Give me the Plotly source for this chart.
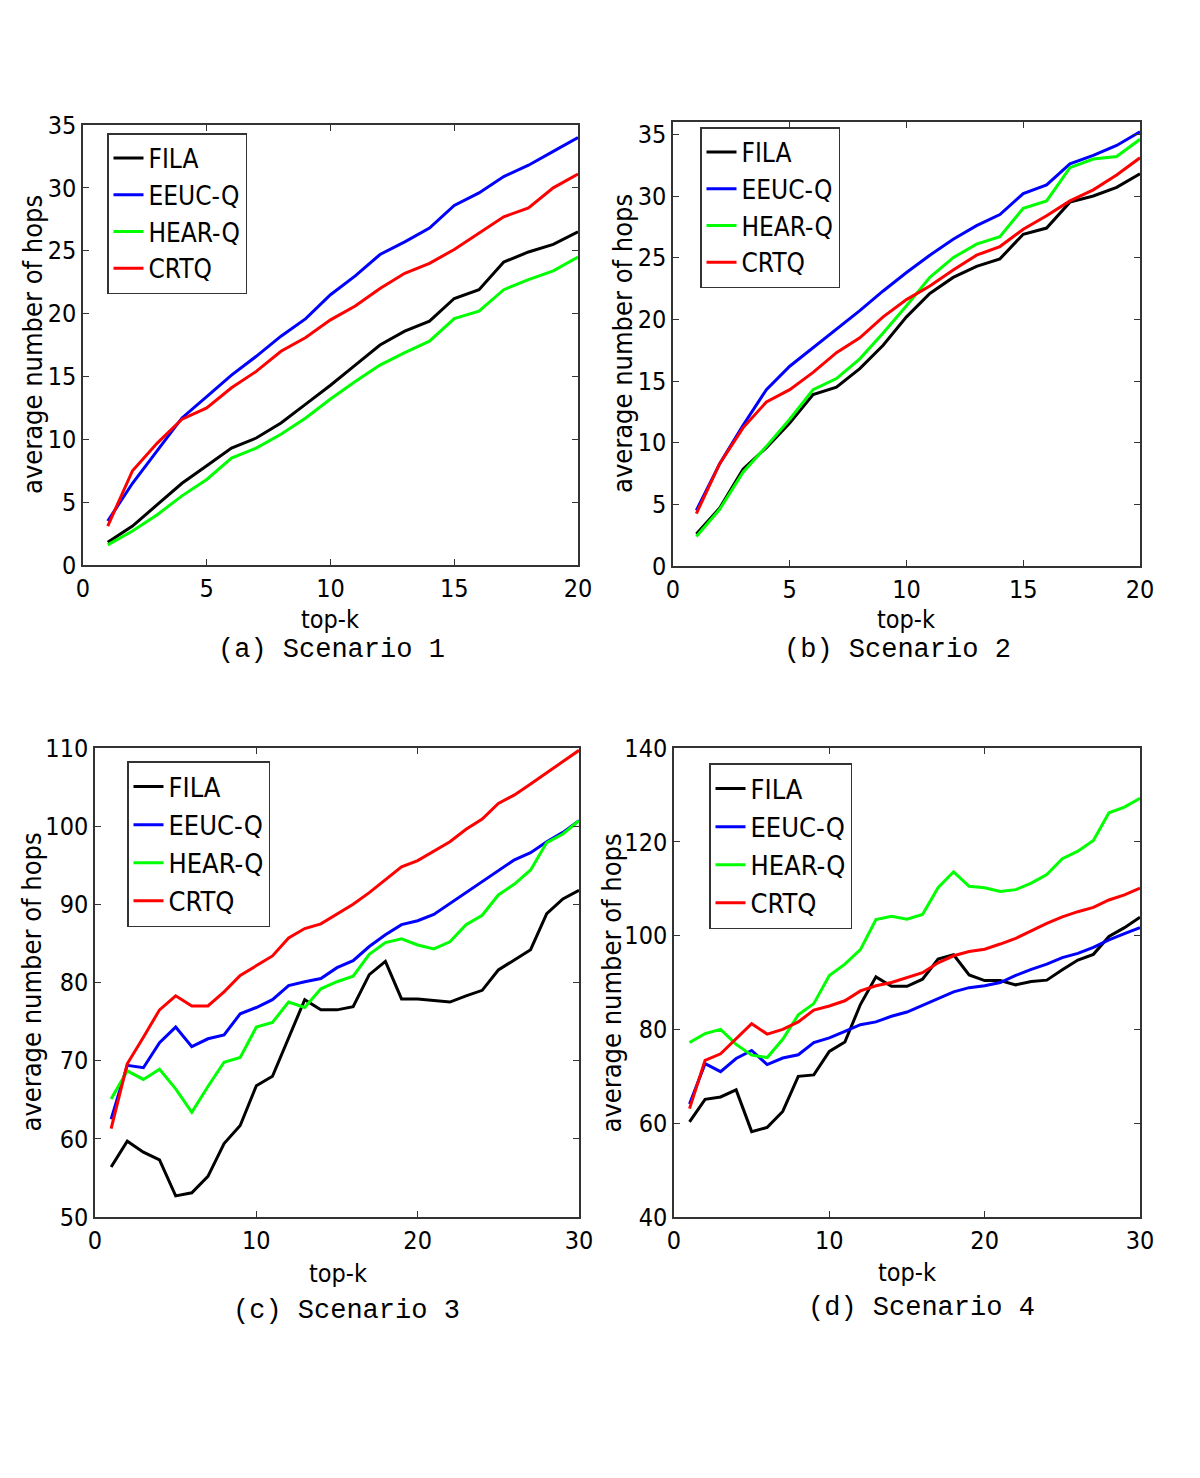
import plotly.graph_objects as go

W, H = 1200, 1478
OFF = 8  # page body margin compensation (px)

series_names = ["FILA", "EEUC-Q", "HEAR-Q", "CRTQ"]
series_colors = ["#000000", "#0000ff", "#00ff00", "#ff0000"]

# Scenario 1 (top-k 1..20)
k_a = list(range(1, 21))
fila_a = [1.8, 3.1, 4.8, 6.5, 7.9, 9.3, 10.1, 11.3, 12.8, 14.3, 15.9, 17.5, 18.6, 19.4, 21.2, 21.9, 24.1, 24.9, 25.5, 26.5]
eeuc_a = [3.5, 6.5, 9.1, 11.7, 13.4, 15.1, 16.6, 18.2, 19.6, 21.5, 23.0, 24.7, 25.7, 26.8, 28.6, 29.6, 30.9, 31.8, 32.9, 34.0]
hear_a = [1.6, 2.7, 4.0, 5.5, 6.8, 8.5, 9.3, 10.4, 11.7, 13.2, 14.6, 15.9, 16.9, 17.8, 19.6, 20.2, 21.9, 22.7, 23.4, 24.5]
crtq_a = [3.1, 7.5, 9.7, 11.6, 12.5, 14.1, 15.4, 17.0, 18.1, 19.5, 20.6, 22.0, 23.2, 24.0, 25.1, 26.4, 27.7, 28.4, 30.0, 31.1]

# Scenario 2 (top-k 1..20)
k_b = list(range(1, 21))
fila_b = [2.6, 4.7, 7.85, 9.6, 11.6, 13.9, 14.5, 16.0, 17.9, 20.2, 22.1, 23.4, 24.3, 24.9, 26.9, 27.4, 29.5, 30.0, 30.7, 31.8]
eeuc_b = [4.5, 8.3, 11.4, 14.3, 16.2, 17.7, 19.2, 20.7, 22.3, 23.8, 25.2, 26.5, 27.6, 28.5, 30.2, 30.9, 32.6, 33.3, 34.1, 35.2]
hear_b = [2.4, 4.6, 7.6, 9.7, 11.9, 14.3, 15.2, 16.8, 18.9, 21.1, 23.4, 25.0, 26.1, 26.7, 29.0, 29.6, 32.3, 33.0, 33.2, 34.6]
crtq_b = [4.25, 8.3, 11.2, 13.3, 14.3, 15.7, 17.3, 18.5, 20.2, 21.6, 22.7, 24.0, 25.2, 25.9, 27.3, 28.4, 29.6, 30.5, 31.7, 33.1]

# Scenario 3 (top-k 1..30)
k_c = list(range(1, 31))
fila_c = [56.4, 59.7, 58.3, 57.3, 52.7, 53.1, 55.2, 59.4, 61.7, 66.8, 68.0, 73.0, 77.8, 76.5, 76.5, 76.9, 81.0, 82.7, 77.9, 77.9,
          77.7, 77.5, 78.3, 79.0, 81.6, 82.9, 84.2, 88.8, 90.7, 91.8]
eeuc_c = [62.5, 69.4, 69.1, 72.3, 74.3, 71.8, 72.8, 73.3, 76.0, 76.8, 77.8, 79.6, 80.1, 80.5, 81.9, 82.8, 84.6, 86.1, 87.4, 87.9,
          88.7, 90.1, 91.5, 93.0, 94.3, 95.7, 96.6, 98.0, 99.2, 100.7]
hear_c = [65.1, 68.7, 67.6, 68.9, 66.4, 63.4, 66.7, 69.8, 70.4, 74.3, 74.9, 77.5, 76.8, 79.2, 80.1, 80.8, 83.6, 85.1, 85.6, 84.8,
          84.3, 85.2, 87.4, 88.6, 91.2, 92.6, 94.4, 97.9, 99.0, 100.7]
crtq_c = [61.3, 69.6, 73.0, 76.5, 78.3, 77.0, 77.0, 78.8, 80.9, 82.2, 83.4, 85.7, 86.9, 87.5, 88.8, 90.0, 91.5, 93.1, 94.8, 95.6,
          96.8, 98.0, 99.6, 100.9, 102.9, 104.0, 105.4, 106.8, 108.2, 109.7]

# Scenario 4 (top-k 1..30)
k_d = list(range(1, 31))
fila_d = [60.3, 65.1, 65.6, 67.1, 58.2, 59.1, 62.5, 70.0, 70.3, 75.3, 77.3, 85.3, 91.2, 89.2, 89.2, 90.7, 95.0, 95.9, 91.6, 90.4,
          90.4, 89.5, 90.2, 90.5, 92.7, 94.8, 96.0, 99.8, 101.7, 103.9]
eeuc_d = [64.1, 72.7, 71.0, 73.8, 75.5, 72.5, 73.9, 74.6, 77.2, 78.2, 79.6, 81.0, 81.6, 82.8, 83.7, 85.1, 86.6, 88.0, 88.9, 89.3,
          90.0, 91.5, 92.8, 93.9, 95.3, 96.2, 97.5, 99.1, 100.4, 101.7]
hear_d = [77.2, 79.1, 80.0, 76.8, 74.5, 74.0, 77.9, 83.1, 85.5, 91.5, 93.9, 97.0, 103.4, 104.1, 103.5, 104.5, 110.2, 113.6, 110.5, 110.2,
          109.4, 109.8, 111.2, 113.0, 116.4, 118.0, 120.3, 126.2, 127.4, 129.3]
crtq_d = [63.1, 73.4, 74.8, 78.0, 81.2, 79.0, 80.0, 81.6, 84.1, 85.0, 86.1, 88.2, 89.3, 90.0, 91.0, 92.1, 94.2, 95.7, 96.6, 97.1,
          98.2, 99.4, 101.0, 102.6, 104.0, 105.1, 106.0, 107.6, 108.7, 110.1]

captions = ["(a) Scenario 1", "(b) Scenario 2", "(c) Scenario 3", "(d) Scenario 4"]
x_label = "top-k"
y_label = "average number of hops"

x_ranges = [[0, 20], [0, 20], [0, 30], [0, 30]]
x_ticks = [[0, 5, 10, 15, 20], [0, 5, 10, 15, 20], [0, 10, 20, 30], [0, 10, 20, 30]]
y_ranges = [[0, 35], [0, 36], [50, 110], [40, 140]]
y_ticks = [[0, 5, 10, 15, 20, 25, 30, 35], [0, 5, 10, 15, 20, 25, 30, 35],
           [50, 60, 70, 80, 90, 100, 110], [40, 60, 80, 100, 120, 140]]

panels = [
    (k_a, [fila_a, eeuc_a, hear_a, crtq_a]),
    (k_b, [fila_b, eeuc_b, hear_b, crtq_b]),
    (k_c, [fila_c, eeuc_c, hear_c, crtq_c]),
    (k_d, [fila_d, eeuc_d, hear_d, crtq_d]),
]

# layout (target page pixels of plot areas: left, right, top, bottom)
boxes = [(83, 578, 125, 565), (673, 1140, 122, 566), (95, 579, 748, 1217), (674, 1140, 748, 1217)]
legend_pos = [(107, 133), (700, 127), (127, 761), (709, 763)]
legend_font = [26, 26, 27, 27]
ylabel_x = [33, 622, 31, 611]
xlabel_pos = [(330, 619), (906, 619), (338, 1273), (907, 1272)]
caption_pos = [(331, 650), (897, 650), (347, 1311), (921, 1308)]

SANS = "DejaVu Sans Condensed, DejaVu Sans, sans-serif"
MONO = "Liberation Mono, DejaVu Sans Mono, monospace"


def px(x):
    return (x - OFF) / W


def py(y):
    return 1 - (y - OFF) / H


fig = go.Figure()
layout = dict(width=W, height=H, margin=dict(l=0, r=0, t=0, b=0, pad=0, autoexpand=False),
              paper_bgcolor="white", plot_bgcolor="white", showlegend=True)
annotations = []

for i, (xs, ys_list) in enumerate(panels):
    n = i + 1
    xa = "x" if n == 1 else f"x{n}"
    ya = "y" if n == 1 else f"y{n}"
    lg = "legend" if n == 1 else f"legend{n}"
    for name, color, ys in zip(series_names, series_colors, ys_list):
        fig.add_trace(go.Scatter(x=xs, y=ys, mode="lines", name=name,
                                 line=dict(color=color, width=3),
                                 xaxis=xa, yaxis=ya, legend=lg))
    l, r, t, b = boxes[i]
    axis_common = dict(showline=True, linecolor="#333333", linewidth=1.5, mirror="ticks",
                       ticks="inside", ticklen=6, tickcolor="#333333", tickwidth=1,
                       showgrid=False, zeroline=False, automargin=False,
                       tickfont=dict(family=SANS, size=25, color="black"))
    layout[f"xaxis{n if n > 1 else ''}"] = dict(
        domain=[px(l), px(r)], range=x_ranges[i], tickmode="array", tickvals=x_ticks[i],
        anchor=ya, **axis_common)
    layout[f"yaxis{n if n > 1 else ''}"] = dict(
        domain=[py(b), py(t)], range=y_ranges[i], tickmode="array", tickvals=y_ticks[i],
        anchor=xa, **axis_common)
    lx, ly = legend_pos[i]
    layout[lg] = dict(x=px(lx), y=py(ly), xanchor="left", yanchor="top",
                      xref="paper", yref="paper",
                      bordercolor="#333333", borderwidth=1.5, bgcolor="white",
                      font=dict(family=SANS, size=legend_font[i], color="black"),
                      itemwidth=30, tracegroupgap=0)
    annotations.append(dict(text=y_label, x=px(ylabel_x[i]), y=py((t + b) / 2),
                            xref="paper", yref="paper", textangle=-90, showarrow=False,
                            xanchor="center", yanchor="middle",
                            font=dict(family=SANS, size=27, color="black")))
    annotations.append(dict(text=x_label, x=px(xlabel_pos[i][0]), y=py(xlabel_pos[i][1]),
                            xref="paper", yref="paper", showarrow=False,
                            xanchor="center", yanchor="middle",
                            font=dict(family=SANS, size=25, color="black")))
    annotations.append(dict(text=captions[i], x=px(caption_pos[i][0]), y=py(caption_pos[i][1]),
                            xref="paper", yref="paper", showarrow=False,
                            xanchor="center", yanchor="middle",
                            font=dict(family=MONO, size=27, color="black")))

layout["annotations"] = annotations
fig.update_layout(**layout)
fig.write_html("out.html")
